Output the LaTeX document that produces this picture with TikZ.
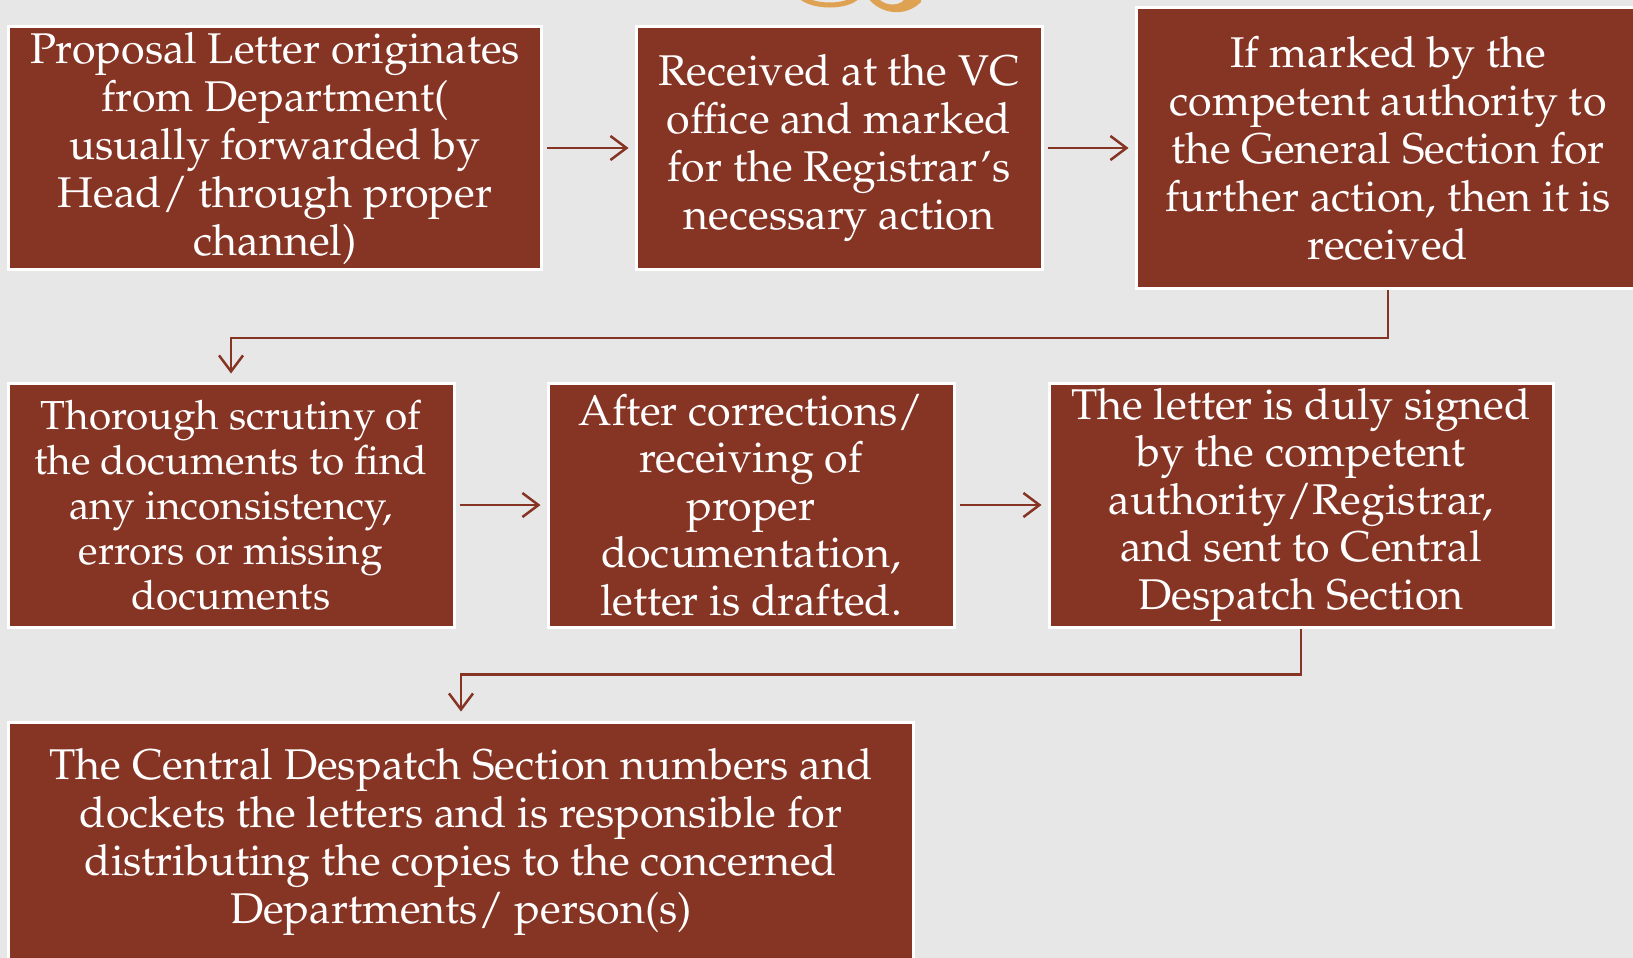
\documentclass[tikz,border=0pt]{standalone}
\usepackage[T1]{fontenc}
\usepackage{mathpazo}
\usetikzlibrary{arrows.meta}
\definecolor{boxred}{RGB}{134,52,36}
\definecolor{pagebg}{RGB}{231,231,231}
\definecolor{gold}{RGB}{222,162,82}
\tikzset{
  stepbox/.style={fill=boxred, draw=white, line width=3pt, text=white,
    align=center, inner sep=0pt, font=\fontsize{43}{48}\selectfont},
  flow/.style={draw=boxred, line width=2.5pt, shorten <=4pt, shorten >=6pt,
    -{Straight Barb[length=16pt,width=24pt,line width=2.5pt]}}
}
\begin{document}
\begin{tikzpicture}[x=1pt,y=-1pt]
  % page
  \fill[pagebg] (0,0) rectangle (1633,958);
  \useasboundingbox (0,0) rectangle (1633,958);
  \begin{scope}
    \clip (0,0) rectangle (1633,958);
    % flourish at the top edge
    \draw[gold, line width=5pt] (800,-4) .. controls (812,8) and (848,8) .. (858,-4);
    \fill[gold] (868,-2) .. controls (880,14) and (905,18) .. (921,2)
      -- (921,-4) -- (906,-4) .. controls (904,6) and (886,8) .. (878,-2) -- cycle;

    %%%%% first row %%%%%
    \node[stepbox, minimum width=533, minimum height=243] (prop) at (275,148)
      {Proposal Letter originates\\ from Department(\\ usually forwarded by\\
       Head/ through proper\\ channel)};
    \node[stepbox, minimum width=406, minimum height=243] (vc) at (839,148)
      {Received at the VC\\ office and marked\\ for the Registrar's\\ necessary action};
    \node[stepbox, minimum width=504, minimum height=281] (gen) at (1388,148)
      {If marked by the\\ competent authority to\\ the General Section for\\
       further action, then it is\\ received};

    %%%%% second row %%%%%
    \node[stepbox, minimum width=446, minimum height=244,
      font=\fontsize{40.5}{45}\selectfont] (scrut) at (231,505)
      {Thorough scrutiny of\\ the documents to find\\ any inconsistency,\\
       errors or missing\\ documents};
    \node[stepbox, minimum width=406, minimum height=244,
      font=\fontsize{43}{47.5}\selectfont] (draft) at (751,505)
      {After corrections/\\ receiving of\\ proper\\ documentation,\\ letter is drafted.};
    \node[stepbox, minimum width=504, minimum height=244,
      font=\fontsize{43}{47.5}\selectfont] (sign) at (1301,505)
      {The letter is duly signed\\ by the competent\\ authority/Registrar,\\
       and sent to Central\\ Despatch Section};

    %%%%% last row %%%%%
    \node[stepbox, minimum width=905, minimum height=240] (desp) at (461,842)
      {The Central Despatch Section numbers and\\ dockets the letters and is responsible for\\
       distributing the copies to the concerned\\ Departments/ person(s)};

    % connectors
    \draw[flow] (prop) -- (vc);
    \draw[flow] (vc) -- (gen);
    \draw[flow, shorten <=0pt, shorten >=8pt] (gen.south) -- ++(0,48) -| (scrut.north);
    \draw[flow] (scrut) -- (draft);
    \draw[flow] (draft) -- (sign);
    \draw[flow, shorten <=0pt, shorten >=9pt] (sign.south) -- ++(0,46) -| (desp.north);
  \end{scope}
\end{tikzpicture}
\end{document}
